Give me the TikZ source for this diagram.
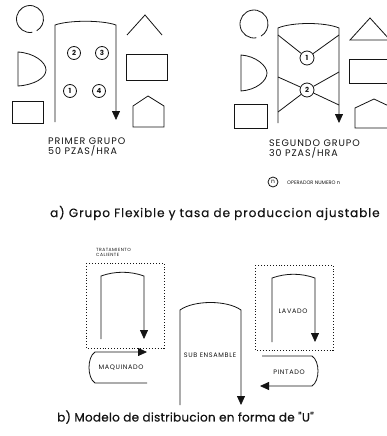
\documentclass[tikz,border=0pt]{standalone}
\usepackage{fontspec}
\setmainfont{Poppins}
\newfontfamily\capfont{Poppins}[LetterSpace=2,FakeBold=0.5]
\newfontfamily\labfont{Poppins}[LetterSpace=10]
\usepackage{xcolor}
\usepackage{tikz}
\usetikzlibrary{arrows.meta,positioning}
\definecolor{ink}{HTML}{141414}
\tikzset{
  every node/.style={text=ink},
  % plain outline of a machine / station
  outl/.style={draw=ink, line width=0.8pt},
  flow/.style={outl, -{Triangle[length=9pt,width=8pt]}},
  dotbox/.style={draw=ink, line width=0.9pt, dotted},
  op/.style={circle, draw=ink, line width=0.8pt, inner sep=0pt, minimum size=13pt,
             font=\fontsize{7}{7}\selectfont\bfseries},
  lbl/.style={font=\labfont\fontsize{6.5}{6.5}\selectfont, inner sep=0pt},
  grp/.style={font=\labfont\fontsize{9.5}{7.5}\selectfont, align=left, anchor=west, inner sep=0pt},
  captxt/.style={font=\capfont\fontsize{12}{12}\selectfont, anchor=west, inner sep=0pt},
}

\begin{document}
\begin{tikzpicture}[x=1pt,y=-1pt]
  \fill[white] (0,0) rectangle (386,436);
  \useasboundingbox (0,0) rectangle (386,436);

  % ---- a) two flexible groups
  % machines round the first group
  \draw[outl] (30,19) ++(80:13.5) arc[start angle=80, end angle=420, radius=13.5];
  \draw[outl] (18,52) .. controls (34,53) and (46,62) .. (46,70)
              .. controls (46,78) and (34,85) .. (18,86) -- cycle;
  \draw[outl] (12,101) rectangle (43,123);
  \draw[outl] (127,35) -- (145,15) -- (162,35);
  \draw[outl] (126,54) rectangle (167,80);
  \draw[outl] (133,106) -- (148,96) -- (164,106) -- (164,127) -- (133,127) -- cycle;
  % machines round the second group
  \draw[outl] (254,24) ++(80:14) arc[start angle=80, end angle=420, radius=14];
  \draw[outl] (241,55) .. controls (256,56) and (267,66) .. (267,73)
              .. controls (267,81) and (256,90) .. (241,91) -- cycle;
  \draw[outl] (234,104) rectangle (267,128);
  \draw[outl] (350,40) -- (370,18) -- (390,40) -- cycle;
  \draw[outl] (349,59) rectangle (392,83);
  \draw[outl] (355,128) -- (355,108) -- (374,99) -- (393,108) -- (393,128) -- cycle;

  % arches with the flow arrow (left/right/top/left end/arrow end/bulge)
  \foreach \l/\r/\t/\lb/\rb/\k in {55/116/25/122/120/5, 278/339/28/123/123/6,
      101/144/276/339/339/5, 272/315/278/342/342/5, 180/241/310/405/405/10}{
    \draw[flow] (\l,\lb) -- (\l,\t) .. controls (\l+14,\t-\k) and (\r-14,\t-\k) .. (\r,\t) -- (\r,\rb);
  }

  % operators
  \foreach \n/\px/\py in {2/74/53, 3/102/53, 1/70/91, 4/99/91}{
    \node[op] (p\n) at (\px,\py) {\n};
  }
  \node[op, minimum size=14pt] (s1) at (307,58) {1};
  \node[op, minimum size=14pt] (s2) at (307,90) {2};
  \draw[outl] (278,35) -- (s1) -- (339,35);
  \draw[outl] (278,77) -- (s2) -- (339,105);
  \draw[outl] (339,72) -- (s2) -- (278,112);

  \node[grp] (g1) at (48,147) {PRIMER GRUPO\\50 PZAS/HRA};
  \node[grp] (g2) at (269,149) {SEGUNDO GRUPO\\30 PZAS/HRA};

  % legend
  \node[op, minimum size=10pt, font=\fontsize{6}{6}\selectfont] (key) at (273,182) {n};
  \node[lbl, anchor=west, font=\fontsize{5}{5}\selectfont] (keytxt) at (287,183) {OPERADOR NUMERO n};

  \node[captxt, font=\capfont\addfontfeature{LetterSpace=8}\fontsize{12}{12}\selectfont] (capa) at (50,213)
    {a) Grupo Flexible y tasa de produccion ajustable};

  % ---- b) U layout
  \draw[dotbox] (86,263) rectangle (164,348);
  \draw[dotbox] (255,265) rectangle (333,350);
  \node[lbl, anchor=west, align=left, font=\labfont\fontsize{4.5}{5}\selectfont] (trat) at (96,252) {TRATAMIENTO\\CALIENTE};
  \node[lbl] (lav) at (293,311) {LAVADO};
  \node[lbl] (sub) at (210,355) {SUB ENSAMBLE};

  \draw[flow] (147,383) -- (95,383) .. controls (87,378) and (87,357) .. (95,352) -- (147,352);
  \node[lbl] (maq) at (121,368) {MAQUINADO};
  \draw[flow] (262,356) -- (312,356) .. controls (320,361) and (320,381) .. (312,386) -- (260,386);
  \node[lbl] (pint) at (289,372) {PINTADO};

  \node[captxt] (capb) at (57,417) {b) Modelo de distribucion en forma de "U"};
\end{tikzpicture}
\end{document}
